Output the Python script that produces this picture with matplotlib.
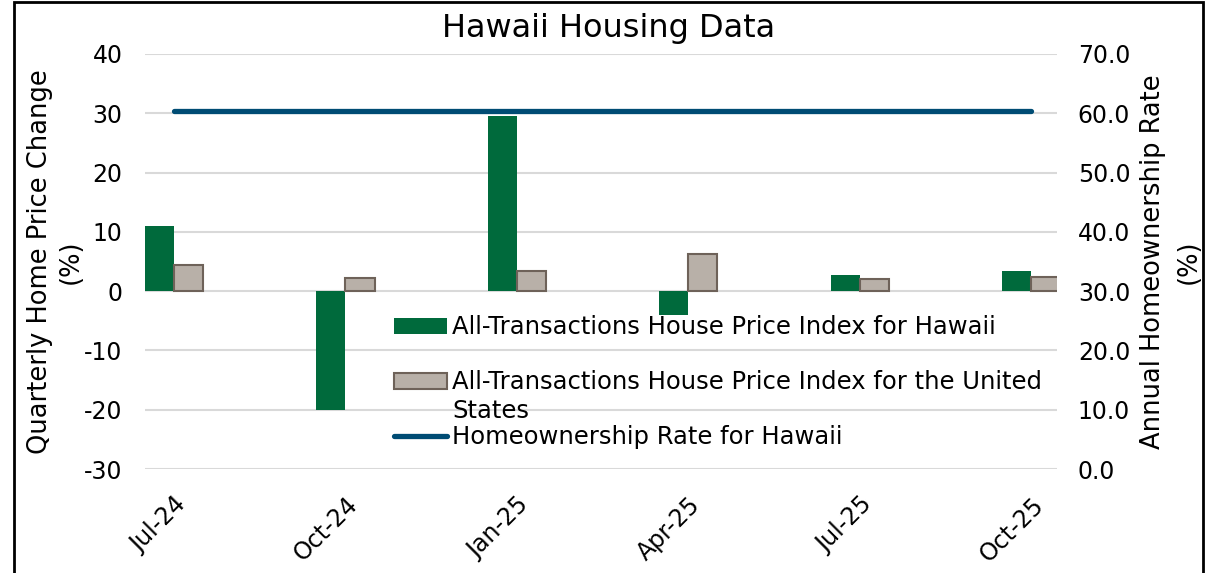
import matplotlib.pyplot as plt
import numpy as np
from matplotlib.patches import Rectangle

plt.rcParams["axes.unicode_minus"] = False

# Data
quarters = ["Jul-24", "Oct-24", "Jan-25", "Apr-25", "Jul-25", "Oct-25"]
hawaii_hpi = [11.0, -20.1, 29.6, -4.1, 2.7, 3.4]
us_hpi = [4.4, 2.2, 3.4, 6.3, 2.1, 2.3]
homeownership = [60.3, 60.3, 60.3, 60.3, 60.3, 60.3]

green = "#006A3C"
grey = "#B8B0A8"
grey_edge = "#6E6259"
blue = "#004C74"

fig = plt.figure(figsize=(12.17, 5.73), dpi=100)
ax = fig.add_axes([0.119, 0.1815, 0.7495, 0.7243])
ax2 = ax.twinx()

x = np.arange(len(quarters))
w = 0.17

ax.bar(x - w / 2, hawaii_hpi, width=w, color=green,
       label="All-Transactions House Price Index for Hawaii", zorder=3)
ax.bar(x + w / 2, us_hpi, width=w, color=grey, edgecolor=grey_edge, linewidth=1.5,
       label="All-Transactions House Price Index for the United", zorder=3)
ax2.plot(x, homeownership, color=blue, lw=3.8, solid_capstyle="round",
         label="Homeownership Rate for Hawaii")

ax.set_ylim(-30, 40)
ax.set_yticks(range(-30, 41, 10))
ax2.set_ylim(0, 70)
ax2.set_yticks(range(0, 71, 10))
ax2.set_yticklabels([f"{v:.1f}" for v in range(0, 71, 10)])
ax.set_xlim(-0.17, 5.15)
ax.set_xticks(x)
ax.set_xticklabels(quarters, rotation=45, ha="right", rotation_mode="anchor")

ax.grid(axis="y", color="#D9D9D9", lw=1.5, zorder=0)
ax.set_axisbelow(True)
for a in (ax, ax2):
    for s in a.spines.values():
        s.set_visible(False)
    a.tick_params(length=0, labelsize=17)
ax.tick_params(axis="y", pad=16)
ax.tick_params(axis="x", pad=17)
ax2.tick_params(axis="y", pad=15)

ax.set_ylabel("Quarterly Home Price Change\n(%)", fontsize=18.5, labelpad=0,
              linespacing=1.28)
ax2.set_ylabel("Annual Homeownership Rate\n(%)", fontsize=18.5, labelpad=7,
               linespacing=1.5)
fig.suptitle("Hawaii Housing Data", fontsize=23, y=1 - 28 / 573, va="center")

h1, l1 = ax.get_legend_handles_labels()
h2, l2 = ax2.get_legend_handles_labels()
leg = ax.legend(h1 + h2, l1 + l2, loc="upper left", bbox_to_anchor=(0.273, 0.370),
                frameon=False, fontsize=17.5, handlelength=2.2, handleheight=0.62,
                handletextpad=0.2, labelspacing=1.27, borderpad=0, borderaxespad=0)

# the US label wraps in the original and its second line spills below the entry
fig.canvas.draw()
bb = leg.get_texts()[1].get_window_extent().transformed(fig.transFigure.inverted())
fig.text(bb.x0, bb.y0 - 0.008, "States", fontsize=17.5, va="top", ha="left")

# outer border
fig.patches.append(Rectangle((14 / 1217, -0.01), (1203 - 14) / 1217, 1 - 2 / 573 + 0.01,
                             transform=fig.transFigure, fill=False, edgecolor="black",
                             lw=2, zorder=10))

fig.savefig("out.png", dpi=100)
